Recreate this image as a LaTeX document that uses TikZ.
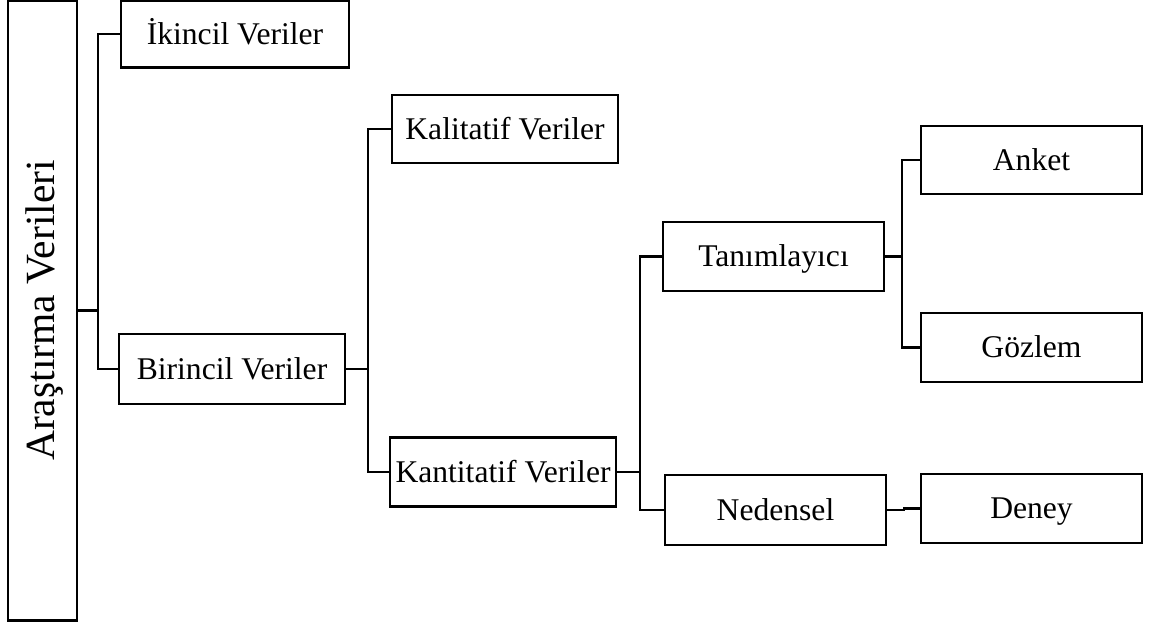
\documentclass[tikz,border=0pt]{standalone}
\usepackage{fontspec}
\setmainfont{Liberation Serif}
\begin{document}
\begin{tikzpicture}[x=1pt,y=-1pt,
  line width=2.2pt,
  box/.style={draw, line width=2.2pt, inner sep=0pt,
    text height=24pt, text depth=4pt,
    font=\fontsize{31.6}{37}\selectfont},
  wide/.style={box, minimum width=226pt, minimum height=69pt},
  leaf/.style={box, minimum width=221pt, minimum height=69pt},
  link/.style={draw, line width=2.2pt}]
\useasboundingbox (0,0) rectangle (1154,627);

% root
\node[draw, line width=2.2pt, inner sep=0pt, minimum width=69pt, minimum height=620pt,
  font=\fontsize{41.5}{48}\selectfont] (root) at (42.5,310.5)
  {\rotatebox{90}{\rule[-8pt]{0pt}{40pt}Araştırma Verileri}};

% first level
\node[wide, minimum width=228pt, minimum height=67pt] (ikincil) at (235,34) {İkincil Veriler};
\node[wide, minimum height=70pt] (birincil) at (232,369) {Birincil Veriler};

% second level
\node[wide, minimum height=68pt] (kalitatif) at (505,129) {Kalitatif Veriler};
\node[wide] (kantitatif) at (503,472) {Kantitatif Veriler};

% third level
\node[leaf] (tanim) at (773.5,256.5) {Tanımlayıcı};
\node[leaf, minimum height=70pt] (nedensel) at (775.5,510) {Nedensel};

% leaves
\node[leaf, minimum height=68pt] (anket) at (1031.5,160) {Anket};
\node[leaf] (gozlem) at (1031.5,347.5) {Gözlem};
\node[leaf] (deney) at (1031.5,508.5) {Deney};

% junctions
\coordinate (j1) at (98,310.5);
\coordinate (j2) at (368,369);
\coordinate (j3) at (640,472);
\coordinate (j4) at (902,256.5);

% connectors
\draw[link] (root.east) -- (j1);
\draw[link] (ikincil.west) -| (j1) |- (birincil.west);
\draw[link] (birincil.east) -- (j2);
\draw[link] (kalitatif.west) -| (j2) |- (kantitatif.west);
\draw[link] (kantitatif.east) -- (j3);
\draw[link] (tanim.west) -| (j3) |- (nedensel.west);
\draw[link] (tanim.east) -- (j4);
\draw[link] (anket.west) -| (j4) |- (gozlem.west);
\draw[link] (nedensel.east) -- ++(17,0) |- (deney.west);
\end{tikzpicture}
\end{document}
